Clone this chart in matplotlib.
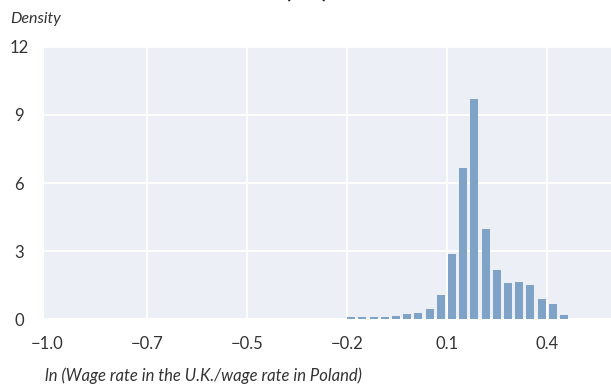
import matplotlib
matplotlib.use("Agg")
import matplotlib.pyplot as plt

# Histogram of log wage ratio (UK vs Poland)
bin_centers = [-0.164, -0.133, -0.102, -0.071, -0.041, -0.010, 0.021, 0.052,
               0.083, 0.114, 0.144, 0.175, 0.206, 0.237, 0.268, 0.298,
               0.329, 0.360, 0.391, 0.422]
density = [0.10, 0.10, 0.10, 0.10, 0.15, 0.23, 0.28, 0.45,
           1.07, 2.87, 6.66, 9.70, 3.97, 2.17, 1.60, 1.64,
           1.51, 0.89, 0.68, 0.19]

x_ticks = [-1.0, -0.725, -0.45, -0.175, 0.1, 0.375]
x_tick_labels = ["\u22121.0", "\u22120.7", "\u22120.5", "\u22120.2", "0.1", "0.4"]
y_ticks = [0, 3, 6, 9, 12]
y_tick_labels = ["0", "3", "6", "9", "12"]

plt.rcParams["font.family"] = ["Lato", "DejaVu Sans"]

W, H = 611, 386
fig = plt.figure(figsize=(W / 100, H / 100), dpi=100)
left, right, top, bottom = 44, 611, 46.7, 319.3
ax = fig.add_axes([left / W, (H - bottom) / H, (right - left) / W, (bottom - top) / H])
ax.set_facecolor("#ECEFF6")

ax.bar(bin_centers, density, width=0.022, color="#7FA2C7", zorder=2)

ax.set_xlim(-1.00825, 0.551)
ax.set_ylim(0, 12)
ax.set_xticks(x_ticks)
ax.set_xticklabels(x_tick_labels)
ax.set_yticks(y_ticks)
ax.set_yticklabels(y_tick_labels, ha="center")
ax.grid(True, color="white", linewidth=1.3, zorder=0)
ax.get_xgridlines()[0].set_visible(False)
ax.set_axisbelow(True)
for s in ax.spines.values():
    s.set_visible(False)
ax.tick_params(axis="both", length=0, labelsize=12, colors="#333333")
ax.tick_params(axis="x", pad=12)
ax.tick_params(axis="y", pad=18)

fig.text(10 / W, (H - 19.5) / H, "Density", style="italic", fontsize=11.5,
         color="#333333", ha="left", va="center")
fig.text(45 / W, (H - 376) / H, "ln (Wage rate in the U.K./wage rate in Poland)",
         style="italic", fontsize=12, color="#333333", ha="left", va="center")
fig.text(306 / W, 1.0 + 2.5 / H, "(UK)", fontsize=16, fontweight="bold", color="#222222",
         ha="center", va="baseline")

fig.savefig("out.png", dpi=100)
